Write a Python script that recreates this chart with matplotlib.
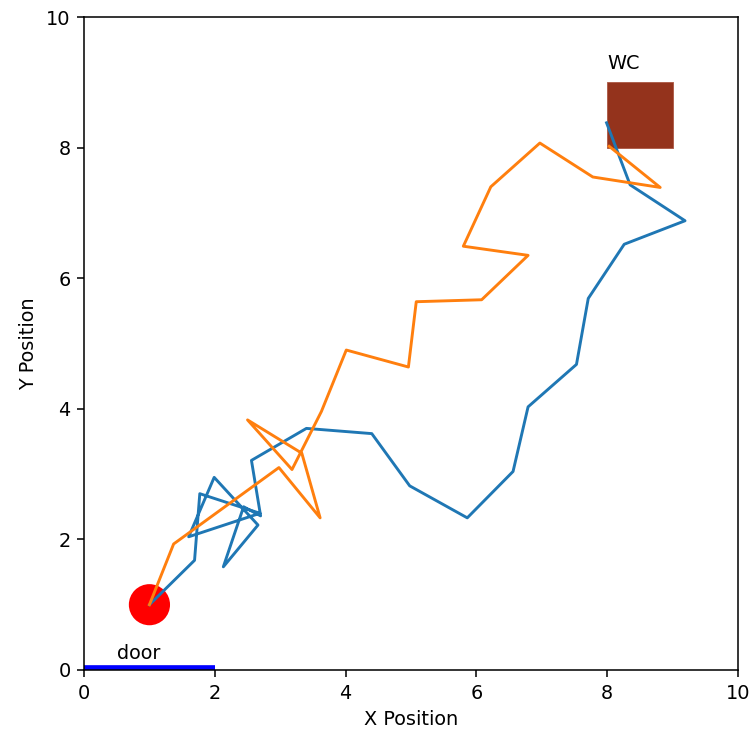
import matplotlib
matplotlib.use("Agg")
import matplotlib.pyplot as plt
from matplotlib.patches import Circle, Rectangle

# walker paths (x, y), both start at the bed and end at the WC
walk1_x = [1.0, 1.69, 1.77, 2.69, 1.60, 1.99, 2.66, 2.13, 2.44, 2.70, 2.56,
           3.40, 4.40, 4.98, 5.86, 6.56, 6.79, 7.53, 7.71, 8.26, 9.19, 8.35, 7.99]
walk1_y = [1.0, 1.68, 2.70, 2.40, 2.04, 2.95, 2.22, 1.58, 2.50, 2.36, 3.21,
           3.70, 3.62, 2.82, 2.33, 3.04, 4.03, 4.68, 5.69, 6.52, 6.88, 7.43, 8.38]

walk2_x = [1.0, 1.37, 2.98, 3.61, 3.33, 2.50, 3.18, 3.63, 4.01, 4.96, 5.08,
           6.08, 6.79, 5.80, 6.22, 6.97, 7.78, 8.81, 8.03]
walk2_y = [1.0, 1.93, 3.10, 2.33, 3.32, 3.83, 3.07, 3.96, 4.90, 4.64, 5.64,
           5.67, 6.35, 6.49, 7.40, 8.07, 7.55, 7.39, 8.02]

start = (1, 1)
door_x = [0, 2]
door_y = [0, 0]
wc_corner = (8, 8)


def main():
    fig = plt.figure(figsize=(751 / 139, 740 / 139), dpi=139)
    ax = fig.add_axes([0.1119, 0.0946, 0.8708, 0.8824])

    ax.add_patch(Circle(start, 0.3, color='red'))
    ax.add_patch(Rectangle(wc_corner, 1, 1, facecolor='#94331c', edgecolor='#b0604c', linewidth=0.5))
    ax.text(wc_corner[0], 9.2, 'WC')

    ax.plot(door_x, door_y, color='blue', linewidth=5, solid_capstyle='butt')
    ax.text(0.5, 0.17, 'door')

    ax.plot(walk1_x, walk1_y)
    ax.plot(walk2_x, walk2_y)

    ax.set_xlim(0, 10)
    ax.set_ylim(0, 10)
    ax.set_xlabel('X Position')
    ax.set_ylabel('Y Position')

    fig.savefig('out.png', dpi=139)


if __name__ == '__main__':
    main()
